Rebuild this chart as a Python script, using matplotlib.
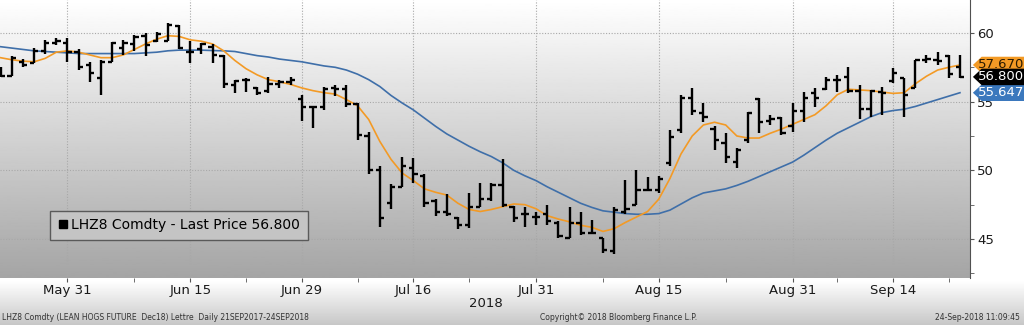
import numpy as np
import pandas as pd
import matplotlib as mpl

# Setting the proper backend.
mpl.use('Agg')

import matplotlib.pyplot as plt
import matplotlib.transforms as mtrans
from matplotlib.lines import Line2D
from matplotlib.patches import Polygon

# ---- data ----
trade_days = pd.bdate_range('2018-05-22', '2018-09-24')
trade_days = trade_days.drop(pd.to_datetime(['2018-05-28', '2018-07-04', '2018-09-03']))

open_px = [57.3, 56.9, 57.9, 57.8, 58.7, 59.3, 59.3, 58.6, 57.7, 56.7,
           57.9, 58.9, 59.2, 59.8, 59.4, 59.4, 60.5, 58.6, 58.8, 59.0,
           58.3, 56.2, 56.6, 56.0, 55.8, 56.3, 56.4, 55.2, 54.6, 54.6,
           56.0, 55.9, 54.8, 52.5, 50.0, 47.6, 48.8, 50.2, 49.6, 47.8,
           47.0, 46.5, 46.0, 47.3, 47.9, 48.9, 47.3, 46.8, 46.6, 46.8,
           46.2, 45.1, 46.2, 45.4, 45.1, 44.1, 47.0, 47.5, 48.6, 48.6,
           50.5, 52.9, 55.3, 54.2, 53.0, 52.0, 50.6, 52.2, 55.2, 53.6,
           53.8, 53.2, 54.3, 55.6, 55.9, 56.6, 56.8, 55.8, 54.5, 55.7,
           56.5, 56.7, 56.0, 58.0, 58.0, 58.3, 57.5]
high_px = [57.5, 58.3, 58.1, 58.9, 59.5, 59.6, 59.6, 58.8, 57.9, 58.0,
           59.35, 59.5, 59.85, 60.0, 60.05, 60.7, 60.6, 59.4, 59.3, 59.2,
           58.4, 56.6, 56.7, 56.1, 56.8, 56.6, 56.8, 55.5, 54.6, 56.1,
           56.2, 56.2, 54.9, 52.8, 50.3, 49.0, 51.0, 50.9, 49.7, 47.9,
           48.3, 46.6, 48.35, 49.1, 49.1, 50.8, 47.4, 47.3, 47.0, 47.5,
           46.3, 47.3, 47.0, 46.4, 45.1, 47.3, 49.3, 50.0, 49.5, 49.6,
           52.9, 55.5, 56.0, 54.9, 53.2, 52.7, 51.6, 54.25, 55.3, 54.0,
           53.9, 54.9, 55.7, 56.0, 56.8, 56.95, 57.5, 56.2, 55.85, 56.1,
           57.45, 56.7, 58.0, 58.4, 58.6, 58.4, 58.4]
low_px = [56.8, 56.9, 57.5, 57.8, 58.5, 59.1, 57.9, 57.3, 56.4, 55.5,
          57.9, 58.4, 58.7, 58.3, 59.35, 59.4, 58.8, 57.8, 58.5, 57.8,
          56.0, 55.6, 55.7, 55.5, 55.6, 56.0, 56.2, 53.6, 53.1, 54.4,
          55.4, 54.6, 52.2, 49.7, 45.9, 47.2, 48.8, 49.1, 47.3, 46.7,
          46.7, 45.7, 45.8, 47.3, 47.8, 47.35, 46.25, 45.9, 46.05, 46.05,
          45.1, 45.1, 45.3, 45.35, 44.0, 43.9, 46.8, 47.5, 48.55, 48.35,
          50.3, 52.7, 54.0, 53.5, 51.5, 50.5, 50.2, 52.0, 52.7, 53.3,
          52.6, 52.8, 53.5, 54.6, 55.85, 55.7, 55.6, 53.7, 53.9, 54.0,
          56.35, 53.9, 56.0, 57.8, 57.7, 56.7, 56.7]
close_px = [56.9, 58.2, 57.7, 58.7, 59.3, 59.4, 58.6, 57.5, 57.1, 57.9,
            59.3, 59.3, 59.7, 59.1, 59.9, 60.6, 58.9, 58.6, 59.2, 58.4,
            56.3, 56.5, 56.6, 55.6, 56.3, 56.45, 56.6, 54.6, 54.6, 55.9,
            55.9, 54.8, 52.6, 50.0, 46.5, 48.8, 50.3, 49.7, 47.6, 47.0,
            46.8, 46.0, 47.3, 47.9, 48.9, 47.5, 46.5, 46.8, 46.6, 46.3,
            45.2, 46.2, 45.4, 45.4, 44.2, 47.1, 47.2, 48.6, 48.6, 49.4,
            52.4, 55.3, 54.3, 53.9, 52.2, 51.0, 51.5, 54.2, 53.5, 53.7,
            52.7, 54.3, 55.3, 55.3, 56.6, 56.6, 55.8, 54.5, 55.8, 55.6,
            57.1, 55.5, 58.0, 58.1, 57.95, 57.0, 56.8]

# short moving average (orange) and long moving average (blue)
ma_fast = [58.2, 58.05, 57.95, 57.9, 58.15, 58.6, 58.7, 58.6, 58.4, 58.2,
           58.2, 58.4, 58.8, 59.2, 59.55, 59.8, 59.75, 59.5, 59.4, 59.2,
           58.7, 58.0, 57.4, 56.95, 56.6, 56.45, 56.25, 56.0, 55.8, 55.65,
           55.55, 55.15, 54.7, 53.7, 52.1, 50.8, 49.8, 49.25, 48.65, 48.4,
           48.2, 47.6, 47.15, 47.0, 47.15, 47.35, 47.55, 47.5, 47.2, 46.7,
           46.45, 46.25, 46.0, 45.85, 45.55, 45.75, 46.2, 46.6, 47.0, 47.9,
           49.4, 51.2, 52.5, 53.3, 53.5, 53.3, 52.5, 52.35, 52.35, 52.7,
           53.0, 53.35, 53.7, 54.05, 54.7, 55.5, 55.9, 55.85, 55.8, 55.7,
           55.6, 55.65, 56.3, 56.85, 57.3, 57.5, 57.67]
ma_slow = [59.0, 58.9, 58.8, 58.7, 58.65, 58.6, 58.55, 58.5, 58.5, 58.5,
           58.5, 58.5, 58.5, 58.55, 58.6, 58.7, 58.75, 58.75, 58.75, 58.72,
           58.7, 58.65, 58.5, 58.35, 58.25, 58.1, 58.0, 57.9, 57.75, 57.6,
           57.5, 57.3, 57.0, 56.6, 56.1, 55.45, 54.9, 54.4, 53.8, 53.2,
           52.65, 52.2, 51.75, 51.35, 51.0, 50.55, 50.0, 49.6, 49.25, 48.8,
           48.4, 48.0, 47.6, 47.3, 47.05, 46.95, 46.85, 46.8, 46.8, 46.85,
           47.1, 47.55, 48.0, 48.35, 48.5, 48.65, 48.9, 49.2, 49.55, 49.9,
           50.25, 50.6, 51.1, 51.65, 52.2, 52.7, 53.1, 53.5, 53.9, 54.2,
           54.35, 54.45, 54.65, 54.9, 55.15, 55.4, 55.65]

tick_dates = ['2018-05-31', '2018-06-15', '2018-06-29', '2018-07-16',
              '2018-07-31', '2018-08-15', '2018-08-31', '2018-09-14']
tick_labels = ['May 31', 'Jun 15', 'Jun 29', 'Jul 16', 'Jul 31', 'Aug 15', 'Aug 31', 'Sep 14']
minor_dates = ['2018-06-08', '2018-06-22', '2018-07-09', '2018-07-23',
               '2018-08-08', '2018-08-23', '2018-09-07', '2018-09-21']

last_fast = 57.670
last_price = 56.800
last_slow = 55.647

ORANGE = '#f39a25'
BLUE = '#3f6fa9'

# ---- figure ----
fig = plt.figure(figsize=(10.24, 3.25), dpi=100)

# background: white top, grey fade under the date axis
bg = fig.add_axes([0, 0, 1, 1], zorder=-5)
rows = np.ones(325)
rows[280:] = np.linspace(1.0, 0.78, 45)
bg.imshow(rows[:, None], cmap='gray', vmin=0, vmax=1, aspect='auto', extent=[0, 1, 0, 1])
bg.set_axis_off()

ax = fig.add_axes([0, 1 - 278 / 325, 970 / 1024, 278 / 325])
ax.patch.set_alpha(0)

x = np.arange(len(trade_days))
x_lo, x_hi = -0.05, 86.9
y_lo, y_hi = 42.16, 62.4

# plot area gradient
grad = np.linspace(1.0, 0.645, 256)[:, None]
ax.imshow(grad, cmap='gray', vmin=0, vmax=1, aspect='auto',
          extent=[x_lo, x_hi, y_lo, y_hi], zorder=0)

# moving averages
ax.plot(x, ma_slow, color=BLUE, lw=1.2, zorder=2)
ax.plot(x, ma_fast, color=ORANGE, lw=1.2, zorder=2)

# OHLC bars
tick = 0.38
ax.vlines(x, low_px, high_px, color='black', lw=1.7, zorder=3)
ax.hlines(open_px, x - tick, x, color='black', lw=1.7, zorder=3)
ax.hlines(close_px, x, x + tick, color='black', lw=1.7, zorder=3)

ax.set_xlim(x_lo, x_hi)
ax.set_ylim(y_lo, y_hi)

# axes / ticks
pos = {d: i for i, d in enumerate(trade_days.strftime('%Y-%m-%d'))}
ax.set_xticks([pos[d] for d in tick_dates])
ax.set_xticklabels(tick_labels)
ax.set_xticks([pos[d] for d in minor_dates], minor=True)
ax.yaxis.tick_right()
ax.set_yticks([45, 50, 55, 60])
ax.set_yticks([42.5, 47.5, 52.5, 57.5], minor=True)
ax.tick_params(axis='both', which='both', direction='out', length=3,
               color='#555555', labelsize=9.5, labelcolor='#1a1a1a')
ax.tick_params(axis='x', pad=1.5)
ax.tick_params(axis='y', pad=2)
ax.grid(True, which='major', linestyle=(0, (1, 1.5)), color='#a8a8a8', lw=0.8, zorder=1)
for s in ['top', 'left', 'bottom']:
    ax.spines[s].set_visible(False)
ax.spines['right'].set_color('#505050')

ax.text(43.5, -0.09, '2018', transform=mtrans.blended_transform_factory(ax.transData, ax.transAxes),
        ha='center', va='center', fontsize=9.5, color='#1a1a1a')

# last value tags on the right axis
trans = mtrans.blended_transform_factory(ax.transAxes, ax.transData)


def draw_tag(value, face, txt_color):
    h = 0.6
    pts = [(1.003, value), (1.012, value + h), (1.07, value + h),
           (1.07, value - h), (1.012, value - h)]
    ax.add_patch(Polygon(pts, closed=True, transform=trans, facecolor=face,
                         edgecolor='none', clip_on=False, zorder=6))
    ax.text(1.032, value, '%.3f' % value, transform=trans, ha='center', va='center',
            fontsize=9.5, color=txt_color, zorder=7, clip_on=False)


draw_tag(last_fast, ORANGE, '#2a1a00')
draw_tag(last_slow, '#3b78bd', 'white')
draw_tag(last_price, 'black', 'white')

# legend box
handle = Line2D([], [], marker='s', color='black', linestyle='none', markersize=6)
leg = ax.legend([handle], ['LHZ8 Comdty - Last Price 56.800'], loc='lower left',
                bbox_to_anchor=(0.0515, 0.137), borderaxespad=0, fontsize=10,
                handlelength=0.8, handletextpad=0.2, borderpad=0.55,
                fancybox=False, framealpha=1)
leg.get_frame().set_facecolor('#c4c4c4')
leg.get_frame().set_edgecolor('#5a5a5a')
leg.get_frame().set_linewidth(1.0)

# footer
fig.text(2 / 1024, 1 - 318 / 325, 'LHZ8 Comdty (LEAN HOGS FUTURE  Dec18) Lettre  Daily 21SEP2017-24SEP2018',
         fontsize=5.5, color='#333333', va='center', ha='left')
fig.text(540 / 1024, 1 - 318 / 325, 'Copyright\u00a9 2018 Bloomberg Finance L.P.',
         fontsize=5.5, color='#333333', va='center', ha='left')
fig.text(1020 / 1024, 1 - 318 / 325, '24-Sep-2018 11:09:45',
         fontsize=5.5, color='#333333', va='center', ha='right')

fig.savefig('out.png', dpi=100)
plt.close(fig)
